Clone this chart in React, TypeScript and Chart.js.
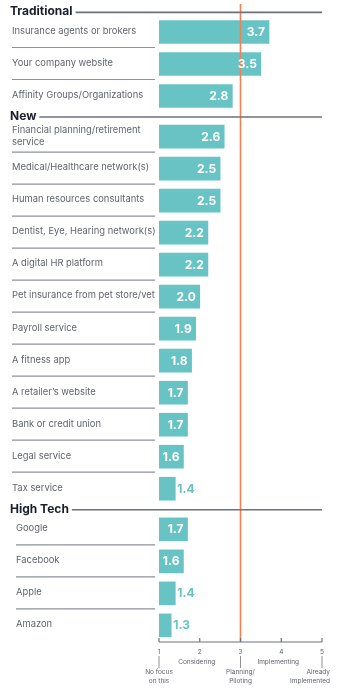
import React, { useEffect, useRef } from "react";
import { Chart, registerables } from "chart.js";

Chart.register(...registerables);

// ---- data ----
const groupNames = ["Traditional", "New", "High Tech"];

const traditionalLabels: (string | string[])[] = [
  "Insurance agents or brokers",
  "Your company website",
  "Affinity Groups/Organizations",
];
const traditionalValues = [3.7, 3.5, 2.8];

const newLabels: (string | string[])[] = [
  ["Financial planning/retirement", "service"],
  "Medical/Healthcare network(s)",
  "Human resources consultants",
  "Dentist, Eye, Hearing network(s)",
  "A digital HR platform",
  "Pet insurance from pet store/vet",
  "Payroll service",
  "A fitness app",
  "A retailer\u2019s website",
  "Bank or credit union",
  "Legal service",
  "Tax service",
];
const newValues = [2.6, 2.5, 2.5, 2.2, 2.2, 2.0, 1.9, 1.8, 1.7, 1.7, 1.6, 1.4];

const highTechLabels: (string | string[])[] = ["Google", "Facebook", "Apple", "Amazon"];
const highTechValues = [1.7, 1.6, 1.4, 1.3];

const tickValues = [1, 2, 3, 4, 5];
const tickNotes: string[][] = [
  ["No focus", "on this"],
  ["Considering"],
  ["Planning/", "Piloting"],
  ["Implementing"],
  ["Already", "Implemented"],
];
const referenceValue = 3;

// ---- styles ----
const TEAL = "#68c3c4";
const ORANGE = "#f2814f";
const LINE_GRAY = "#6c7080";
const SEP_GRAY = "#8e919b";
const LABEL_COLOR = "#60646d";
const HEAD_COLOR = "#1b1e2c";
const FONT = "Inter, 'Noto Sans', sans-serif";

const GROUP_GAP = 0.27;
const HEAD_OFFSET = 0.66;

type Row = { label: string | string[]; value: number; pos: number; group: number; last: boolean };

function buildRows() {
  const groups = [
    { labels: traditionalLabels, values: traditionalValues },
    { labels: newLabels, values: newValues },
    { labels: highTechLabels, values: highTechValues },
  ];
  const rows: Row[] = [];
  const heads: { name: string; pos: number }[] = [];
  let idx = 0;
  groups.forEach((g, gi) => {
    g.labels.forEach((lab, i) => {
      const pos = idx + gi * GROUP_GAP;
      if (i === 0) heads.push({ name: groupNames[gi], pos: pos - HEAD_OFFSET });
      rows.push({ label: lab, value: g.values[i], pos, group: gi, last: i === g.labels.length - 1 });
      idx++;
    });
  });
  return { rows, heads };
}

export default function App() {
  const ref = useRef<HTMLCanvasElement | null>(null);

  useEffect(() => {
    const canvas = ref.current;
    if (!canvas) return;
    const { rows, heads } = buildRows();
    const lastPos = rows[rows.length - 1].pos;

    const overlay = {
      id: "overlay",
      afterDatasetsDraw(chart: any) {
        const ctx: CanvasRenderingContext2D = chart.ctx;
        const xs = chart.scales.x;
        const ys = chart.scales.y;
        const area = chart.chartArea;
        ctx.save();

        // reference line
        const rx = xs.getPixelForValue(referenceValue);
        ctx.strokeStyle = ORANGE;
        ctx.lineWidth = 1.6;
        ctx.beginPath();
        ctx.moveTo(rx, area.top);
        ctx.lineTo(rx, area.bottom);
        ctx.stroke();

        // headings
        heads.forEach((h) => {
          const y = ys.getPixelForValue(h.pos);
          ctx.font = `bold 12px ${FONT}`;
          ctx.fillStyle = HEAD_COLOR;
          ctx.textAlign = "left";
          ctx.textBaseline = "middle";
          ctx.fillText(h.name, 10, y + 1);
          const w = ctx.measureText(h.name).width;
          ctx.strokeStyle = LINE_GRAY;
          ctx.lineWidth = 1.6;
          ctx.beginPath();
          ctx.moveTo(10 + w + 3, y + 1.5);
          ctx.lineTo(xs.getPixelForValue(5), y + 1.5);
          ctx.stroke();
        });

        // category labels, separators, values
        const meta = chart.getDatasetMeta(0);
        rows.forEach((r, i) => {
          const y = ys.getPixelForValue(r.pos);
          const lx = r.group === 2 ? 16 : 12;
          ctx.font = `9.4px ${FONT}`;
          ctx.fillStyle = LABEL_COLOR;
          ctx.textAlign = "left";
          ctx.textBaseline = "middle";
          if (Array.isArray(r.label)) {
            ctx.fillText(r.label[0], lx, y - 6);
            ctx.fillText(r.label[1], lx, y + 5.5);
          } else {
            ctx.fillText(r.label, lx, y - 1);
          }
          if (!r.last) {
            ctx.strokeStyle = SEP_GRAY;
            ctx.lineWidth = 1.2;
            ctx.beginPath();
            ctx.moveTo(lx, y + 15.5);
            ctx.lineTo(155, y + 15.5);
            ctx.stroke();
          }
          const bar = meta.data[i];
          const endX = bar.x;
          const baseX = bar.base;
          const txt = r.value.toFixed(1);
          ctx.font = `bold 12px ${FONT}`;
          const tw = ctx.measureText(txt).width;
          if (tw + 6 <= endX - baseX) {
            ctx.fillStyle = "#ffffff";
            ctx.textAlign = "right";
            ctx.fillText(txt, endX - 4, y + 0.5);
          } else {
            ctx.fillStyle = TEAL;
            ctx.textAlign = "left";
            ctx.fillText(txt, endX + 2, y + 0.5);
          }
        });

        // x axis
        const ay = area.bottom;
        ctx.strokeStyle = LINE_GRAY;
        ctx.lineWidth = 1.2;
        ctx.beginPath();
        ctx.moveTo(xs.getPixelForValue(tickValues[0]), ay);
        ctx.lineTo(xs.getPixelForValue(tickValues[tickValues.length - 1]), ay);
        ctx.stroke();
        tickValues.forEach((v, i) => {
          const x = xs.getPixelForValue(v);
          ctx.strokeStyle = LINE_GRAY;
          ctx.lineWidth = 1.2;
          ctx.beginPath();
          ctx.moveTo(x, ay - 4);
          ctx.lineTo(x, ay);
          ctx.stroke();
          ctx.font = `6.5px ${FONT}`;
          ctx.fillStyle = LABEL_COLOR;
          ctx.textAlign = "center";
          ctx.textBaseline = "middle";
          ctx.fillText(String(v), x, ay + 10);
          const notes = tickNotes[i];
          if (notes.length === 1) {
            ctx.fillText(notes[0], x - 3, ay + 20);
          } else {
            ctx.strokeStyle = SEP_GRAY;
            ctx.lineWidth = 1;
            ctx.beginPath();
            ctx.moveTo(x, ay + 14);
            ctx.lineTo(x, ay + 26);
            ctx.stroke();
            notes.forEach((n, k) => {
              const w = ctx.measureText(n).width;
              let cx = x;
              if (cx + w / 2 > 330) cx = 330 - w / 2;
              ctx.fillText(n, cx, ay + 30 + k * 9);
            });
          }
        });

        ctx.restore();
      },
    };

    const chart = new Chart(canvas, {
      type: "bar",
      data: {
        datasets: [
          {
            data: rows.map((r) => ({ x: r.value, y: r.pos })),
            backgroundColor: TEAL,
            borderWidth: 0,
            barThickness: 23,
            base: tickValues[0],
          },
        ],
      },
      options: {
        indexAxis: "y",
        animation: false,
        responsive: false,
        maintainAspectRatio: false,
        layout: { padding: { left: 159, right: 32, top: 4, bottom: 49 } },
        scales: {
          x: { type: "linear", min: 1, max: 5, display: false, offset: false },
          y: { type: "linear", reverse: true, min: -0.875, max: lastPos + 0.52, display: false, offset: false },
        },
        plugins: { legend: { display: false }, tooltip: { enabled: false } },
      },
      plugins: [overlay],
    } as any);

    return () => chart.destroy();
  }, []);

  return (
    <div style={{ position: "fixed", left: 0, top: 0, width: 354, height: 691, background: "#fff" }}>
      <canvas ref={ref} width={354} height={691} style={{ display: "block", width: 354, height: 691 }} />
    </div>
  );
}
